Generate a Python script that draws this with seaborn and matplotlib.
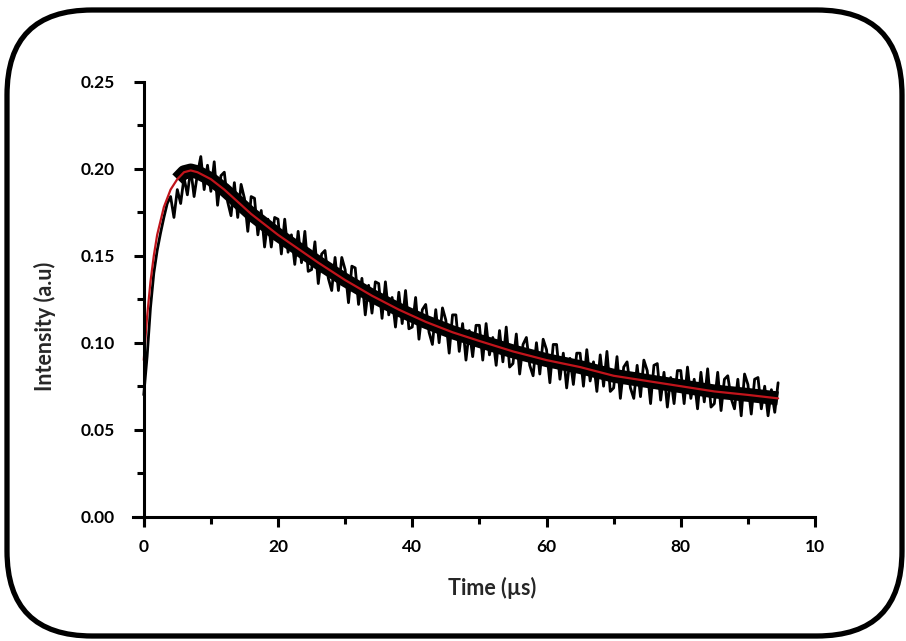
import numpy as np
import pandas as pd
import matplotlib.pyplot as plt
import seaborn as sns
from matplotlib.patches import FancyBboxPatch
from matplotlib.ticker import MultipleLocator

# ---------------------------------
# DATA
# ---------------------------------
# fitted curve (red)
fit_time = [0, 0.5, 1, 1.5, 2, 3, 4, 5, 6, 7, 8, 10, 12, 14, 16, 18, 20, 23, 26,
            30, 34, 38, 42, 46, 50, 55, 60, 65, 70, 75, 80, 85, 90, 94.5]
fit_intensity = [0.090, 0.115, 0.135, 0.150, 0.162, 0.178, 0.188, 0.194, 0.198,
                 0.199, 0.198, 0.194, 0.188, 0.181, 0.174, 0.168, 0.162, 0.154,
                 0.146, 0.136, 0.127, 0.119, 0.112, 0.106, 0.101, 0.095, 0.090,
                 0.086, 0.081, 0.078, 0.075, 0.072, 0.070, 0.068]

# measured trace (black), one sample every 0.5 us
sample_step = 0.5
trace_intensity = [
    0.070, 0.092, 0.120, 0.140, 0.153, 0.163, 0.172, 0.180, 0.184, 0.172,
    0.188, 0.180, 0.195, 0.185, 0.200, 0.184, 0.197, 0.207, 0.188, 0.202,
    0.187, 0.204, 0.179, 0.196, 0.198, 0.181, 0.173, 0.192, 0.172, 0.191,
    0.183, 0.164, 0.184, 0.183, 0.162, 0.176, 0.155, 0.171, 0.155, 0.172,
    0.171, 0.151, 0.171, 0.152, 0.162, 0.145, 0.164, 0.146, 0.164, 0.141,
    0.142, 0.158, 0.134, 0.151, 0.153, 0.137, 0.130, 0.149, 0.130, 0.149,
    0.142, 0.123, 0.144, 0.143, 0.122, 0.137, 0.116, 0.133, 0.117, 0.135,
    0.134, 0.114, 0.135, 0.116, 0.126, 0.109, 0.129, 0.111, 0.130, 0.108,
    0.109, 0.126, 0.102, 0.119, 0.122, 0.106, 0.099, 0.119, 0.100, 0.120,
    0.113, 0.094, 0.116, 0.116, 0.095, 0.111, 0.090, 0.107, 0.092, 0.110,
    0.110, 0.090, 0.111, 0.093, 0.103, 0.087, 0.107, 0.089, 0.109, 0.086,
    0.088, 0.105, 0.082, 0.099, 0.103, 0.087, 0.081, 0.100, 0.082, 0.102,
    0.096, 0.077, 0.099, 0.099, 0.079, 0.094, 0.074, 0.091, 0.076, 0.094,
    0.094, 0.075, 0.096, 0.078, 0.089, 0.072, 0.093, 0.075, 0.095, 0.072,
    0.074, 0.092, 0.068, 0.086, 0.089, 0.074, 0.068, 0.087, 0.069, 0.090,
    0.084, 0.065, 0.087, 0.088, 0.067, 0.083, 0.063, 0.080, 0.065, 0.084,
    0.084, 0.065, 0.086, 0.068, 0.079, 0.062, 0.083, 0.066, 0.085, 0.063,
    0.065, 0.083, 0.061, 0.079, 0.081, 0.068, 0.062, 0.079, 0.058, 0.082,
    0.076, 0.059, 0.079, 0.080, 0.062, 0.075, 0.058, 0.073, 0.060, 0.077,
]

x_ticks = [0, 20, 40, 60, 80, 100]
x_tick_labels = ["0", "20", "40", "60", "80", "10"]
y_ticks = [0.00, 0.05, 0.10, 0.15, 0.20, 0.25]
y_tick_labels = ["0.00", "0.05", "0.10", "0.15", "0.20", "0.25"]

trace_df = pd.DataFrame({
    "time": np.arange(len(trace_intensity)) * sample_step,
    "intensity": trace_intensity,
})
fit_df = pd.DataFrame({"time": fit_time, "intensity": fit_intensity})

# ---------------------------------
# FIGURE
# ---------------------------------
sns.set_theme(style="white")
plt.rcParams["font.family"] = ["Lato", "DejaVu Sans"]

fig = plt.figure(figsize=(9.06, 6.41), dpi=100)
ax = fig.add_axes([0.1468, 0.1817, 0.7528, 0.6908])

# solid core of the noisy band (skip the steep rise), noisy trace, then the fit
core_df = fit_df[fit_df["time"] >= 5]
sns.lineplot(data=core_df, x="time", y="intensity", ax=ax, color="black",
             linewidth=10, estimator=None, sort=False, solid_capstyle="butt")
sns.lineplot(data=trace_df, x="time", y="intensity", ax=ax, color="black",
             linewidth=2.0, estimator=None, sort=False)
sns.lineplot(data=fit_df, x="time", y="intensity", ax=ax, color="#c0141b",
             linewidth=1.6, estimator=None, sort=False)

ax.set_xlim(-1.6, 100)
ax.set_ylim(-0.0045, 0.25)
ax.spines["left"].set_position(("data", 0))
ax.spines["bottom"].set_position(("data", 0))
ax.spines["top"].set_visible(False)
ax.spines["right"].set_visible(False)
for side in ["left", "bottom"]:
    ax.spines[side].set_linewidth(2.2)
    ax.spines[side].set_color("black")

ax.set_xticks(x_ticks)
ax.set_xticklabels(x_tick_labels)
ax.set_yticks(y_ticks)
ax.set_yticklabels(y_tick_labels)
ax.xaxis.set_minor_locator(MultipleLocator(10))
ax.yaxis.set_minor_locator(MultipleLocator(0.025))
ax.tick_params(axis="both", which="major", direction="out", length=7, width=2.2,
               color="black", labelsize=12.5, labelcolor="black")
ax.tick_params(axis="both", which="minor", direction="out", length=5, width=2.2,
               color="black")
ax.tick_params(axis="y", which="both", left=True, pad=14)
ax.tick_params(axis="x", which="both", bottom=True, pad=9)
for lab in ax.get_xticklabels() + ax.get_yticklabels():
    lab.set_fontweight("bold")

ax.set_xlabel("")
ax.set_ylabel("")
fig.text(0.543, 0.083, "Time (µs)", ha="center", va="center",
         fontsize=15.5, fontweight="bold")
fig.text(0.050, 0.491, "Intensity (a.u)", ha="center", va="center",
         rotation=90, fontsize=15.5, fontweight="bold")

# rounded frame around the whole figure (pixel coordinates)
frame = FancyBboxPatch((7, 5), 895, 626,
                       boxstyle="round,pad=0,rounding_size=85",
                       transform=None, fill=False, edgecolor="black",
                       linewidth=3.8, clip_on=False)
fig.patches.append(frame)

fig.savefig("out.png", dpi=100)
